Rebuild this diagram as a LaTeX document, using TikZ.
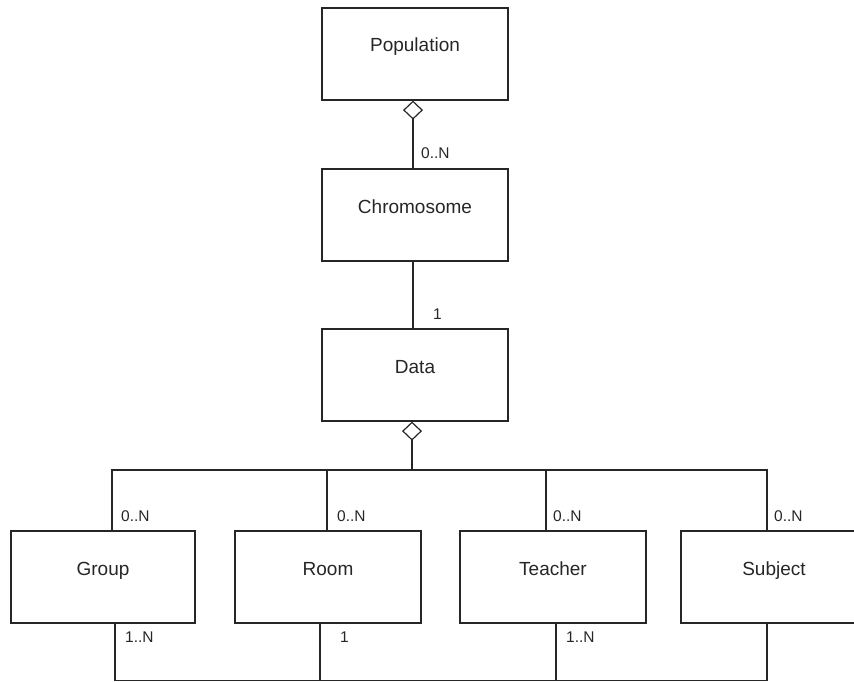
\documentclass[tikz,border=0pt]{standalone}
\usepackage{fontspec}
\setmainfont{Liberation Sans}
\usetikzlibrary{arrows.meta}
\definecolor{ink}{gray}{0.15}
\tikzset{
  cls/.style={draw=ink, line width=1.2pt, rectangle, minimum width=186pt, minimum height=92pt,
    inner sep=0pt, text height=6pt, text depth=10pt, font=\fontsize{19}{19}\selectfont, text=ink},
  lbl/.style={anchor=west, inner sep=0pt, font=\fontsize{15.5}{15.5}\selectfont, text=ink},
  conn/.style={draw=ink, line width=1.2pt},
  agg/.style={conn, {Diamond[open, length=19pt, width=20pt]}-}
}
\begin{document}
\begin{tikzpicture}[x=1pt, y=-1pt]
\useasboundingbox (0,0) rectangle (854,682);
\begin{scope}
\clip (0,0) rectangle (854,682);
\node[cls] (pop) at (415,54) {Population};
\node[cls] (chr) at (415,215) {Chromosome};
\node[cls] (dat) at (415,375) {Data};
\node[cls, minimum width=184pt] (grp) at (103,577) {Group};
\node[cls] (room) at (328,577) {Room};
\node[cls] (tea) at (553,577) {Teacher};
\node[cls] (sub) at (774,577) {Subject};

\coordinate (bus) at (412,470);
\coordinate (bot) at (412,680.5);

\draw[agg] ([xshift=-2pt]pop.south) -- ([xshift=-2pt]chr.north);
\draw[conn] ([xshift=-2pt]chr.south) -- ([xshift=-2pt]dat.north);
\draw[agg] ([xshift=-3pt]dat.south) -- (bus);
\draw[conn] ([xshift=9pt]grp.north) |- (bus) -| ([xshift=-7pt]sub.north);
\draw[conn] ([xshift=-1pt]room.north) -- ++(0,-61);
\draw[conn] ([xshift=-7pt]tea.north) -- ++(0,-61);
\draw[conn] ([xshift=12pt]grp.south) |- (bot) -| ([xshift=-7pt]sub.south);
\draw[conn] ([xshift=-8pt]room.south) -- ++(0,57.5);
\draw[conn] ([xshift=3pt]tea.south) -- ++(0,57.5);

\node[lbl] (m1) at (421,153) {0..N};
\node[lbl] (m2) at (433,314) {1};
\node[lbl] (m3) at (121,516) {0..N};
\node[lbl] (m4) at (337,516) {0..N};
\node[lbl] (m5) at (553,516) {0..N};
\node[lbl] (m6) at (774,516) {0..N};
\node[lbl] (m7) at (125,637) {1..N};
\node[lbl] (m8) at (340,637) {1};
\node[lbl] (m9) at (566,637) {1..N};
\end{scope}
\end{tikzpicture}
\end{document}
